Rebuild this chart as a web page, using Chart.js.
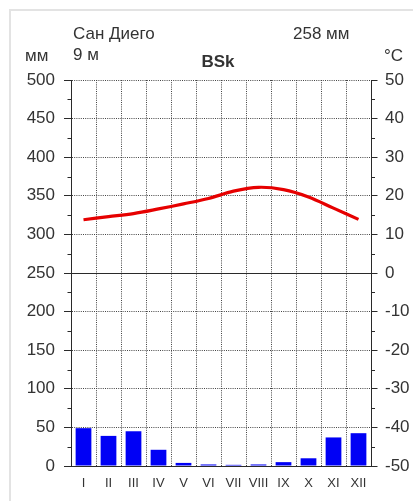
<!DOCTYPE html>
<html>
<head>
<meta charset="utf-8">
<script src="https://cdn.jsdelivr.net/npm/chart.js@4/dist/chart.umd.min.js"></script>
<style>
  html, body { margin: 0; padding: 0; background: #fff; }
  #wrap { position: relative; width: 413px; height: 501px; overflow: hidden; }
  #frame { position: absolute; left: 9px; top: 9px; width: 500px; height: 600px; border: 2px solid #e3e3e3; box-sizing: border-box; }
  canvas { position: absolute; left: 0; top: 0; }
  .t { position: absolute; font-family: "Liberation Sans", Arial, sans-serif; font-size: 17px; line-height: 17px; color: #333; white-space: nowrap; }
</style>
</head>
<body>
<div id="wrap">
  <div id="frame"></div>
  <canvas id="c" width="413" height="501"></canvas>
  <div class="t" style="left:73px; top:25px;">Сан Диего</div>
  <div class="t" style="left:73px; top:46px;">9 м</div>
  <div class="t" style="left:25px; top:47px;">мм</div>
  <div class="t" style="left:200px; top:53px; width:36px; text-align:center; font-weight:bold;">BSk</div>
  <div class="t" style="left:293px; top:25px;">258 мм</div>
  <div class="t" style="left:384px; top:47px;">°C</div>
</div>
<script>
const months = ["I","II","III","IV","V","VI","VII","VIII","IX","X","XI","XII"];
const precipitation = [49, 39, 45, 21, 4, 2, 1.5, 2, 5, 10, 37, 42.5];
const temperature = [13.8, 14.6, 15.4, 16.6, 17.9, 19.3, 21.2, 22.2, 21.6, 19.7, 16.8, 13.9];
const precipTicks = [0, 500, 50];
const tempTicks = [-50, 50, 10];

const FONT = "'Liberation Sans', Arial, sans-serif";
const AXIS = '#2a2a2a';
const GRID = '#444';

const extrasPlugin = {
  id: 'extras',
  beforeDatasetsDraw(chart) {
    const ctx = chart.ctx;
    const ya = chart.scales.y1;
    const area = chart.chartArea;
    const y0 = Math.round(ya.getPixelForValue(0)) + 0.5;
    ctx.save();
    ctx.strokeStyle = AXIS;
    ctx.lineWidth = 1;
    ctx.beginPath();
    ctx.moveTo(area.left, y0);
    ctx.lineTo(area.right, y0);
    ctx.stroke();
    const yl = chart.scales.y;
    for (let v = precipTicks[0] + precipTicks[2] / 2; v < precipTicks[1]; v += precipTicks[2]) {
      const p = Math.round(yl.getPixelForValue(v)) + 0.5;
      ctx.beginPath();
      ctx.moveTo(area.left, p);
      ctx.lineTo(area.left - 3.5, p);
      ctx.stroke();
    }
    for (let v = tempTicks[0] + tempTicks[2] / 2; v < tempTicks[1]; v += tempTicks[2]) {
      const p = Math.round(ya.getPixelForValue(v)) + 0.5;
      ctx.beginPath();
      ctx.moveTo(area.right, p);
      ctx.lineTo(area.right + 4, p);
      ctx.stroke();
    }
    ctx.restore();
  }
};

new Chart(document.getElementById('c'), {
  type: 'bar',
  data: {
    labels: months,
    datasets: [
      {
        type: 'line',
        data: temperature,
        yAxisID: 'y1',
        borderColor: '#e60000',
        borderWidth: 3.2,
        pointRadius: 0,
        tension: 0.35,
        fill: false,
        order: 0
      },
      {
        type: 'bar',
        data: precipitation,
        yAxisID: 'y',
        backgroundColor: '#0000f5',
        borderWidth: 0,
        categoryPercentage: 1,
        barPercentage: 0.63,
        order: 1
      }
    ]
  },
  options: {
    responsive: false,
    animation: false,
    devicePixelRatio: 1,
    layout: { padding: { left: 0, right: 0, top: 80, bottom: 0 } },
    plugins: { legend: { display: false }, tooltip: { enabled: false } },
    scales: {
      x: {
        offset: true,
        grid: { display: true, offset: true, color: GRID, lineWidth: 1, drawTicks: false },
        border: { display: true, color: AXIS, width: 1, dash: [1, 1.2] },
        ticks: { color: '#333', font: { family: FONT, size: 13 }, padding: 10, autoSkip: false, maxRotation: 0 },
        afterFit(s) { s.height = 35; }
      },
      y: {
        position: 'left',
        min: precipTicks[0], max: precipTicks[1],
        ticks: { stepSize: precipTicks[2], color: '#333', font: { family: FONT, size: 17 }, padding: 9 },
        grid: { color: GRID, lineWidth: 1, drawTicks: true, tickLength: 7, tickColor: AXIS, tickBorderDash: [] },
        border: { display: true, color: AXIS, width: 1, dash: [1, 1.2] },
        afterFit(s) { s.width = 71; }
      },
      y1: {
        position: 'right',
        min: tempTicks[0], max: tempTicks[1],
        ticks: { stepSize: tempTicks[2], color: '#333', font: { family: FONT, size: 17 }, padding: 7.5 },
        grid: { drawOnChartArea: false, drawTicks: true, tickLength: 6.5, tickColor: AXIS, color: AXIS, tickBorderDash: [] },
        border: { display: true, color: AXIS, width: 1 },
        afterFit(s) { s.width = 42; }
      }
    }
  },
  plugins: [extrasPlugin]
});
</script>
</body>
</html>
